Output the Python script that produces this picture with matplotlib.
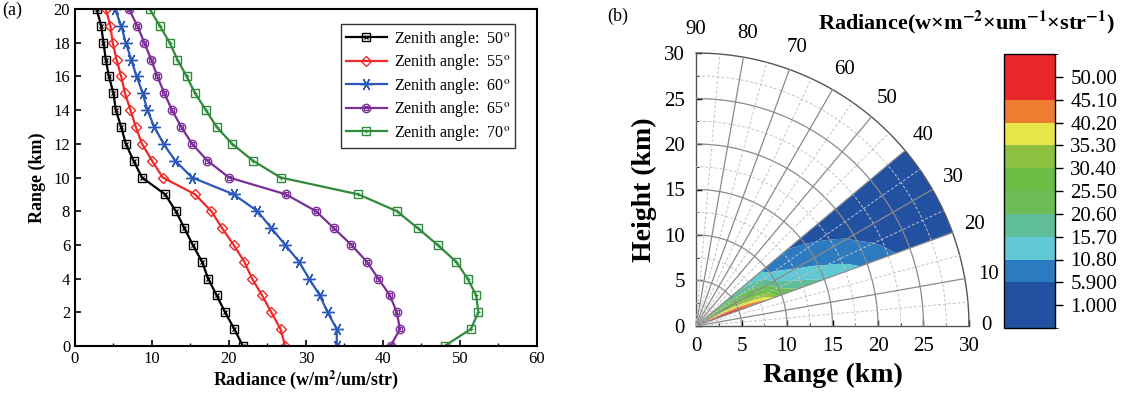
import numpy as np
import matplotlib
matplotlib.use("Agg")
import matplotlib.pyplot as plt
from matplotlib.colors import ListedColormap, BoundaryNorm
from matplotlib.colorbar import ColorbarBase

plt.rcParams['font.family'] = ['Liberation Serif', 'DejaVu Serif']
plt.rcParams['mathtext.fontset'] = 'stix'

# ---- data (a): radiance vs range for each zenith angle ----
ranges = np.arange(0, 21)
zeniths = [50, 55, 60, 65, 70]
rad_50 = [21.8, 20.7, 19.5, 18.4, 17.3, 16.5, 15.3, 14.2, 13.1, 11.7, 8.7,
          7.6, 6.6, 6.0, 5.3, 5.0, 4.4, 4.0, 3.7, 3.4, 2.8]
rad_55 = [27.3, 26.7, 25.5, 24.3, 23.0, 22.0, 20.6, 19.1, 17.7, 15.6, 11.4,
          10.0, 8.7, 7.9, 7.2, 6.5, 6.0, 5.4, 4.9, 4.6, 4.0]
rad_60 = [34.0, 34.0, 32.8, 31.8, 30.4, 29.1, 27.3, 25.5, 23.7, 20.6, 15.2,
          13.0, 11.5, 10.3, 9.4, 8.8, 8.0, 7.3, 6.6, 6.0, 5.2]
rad_65 = [41.0, 42.2, 41.8, 40.9, 39.4, 37.9, 35.9, 33.6, 31.3, 27.4, 20.0,
          17.2, 15.2, 13.8, 12.6, 11.6, 10.7, 9.9, 9.0, 8.1, 7.0]
rad_70 = [48.0, 51.4, 52.4, 52.1, 51.0, 49.5, 47.1, 44.5, 41.8, 36.8, 26.7,
          23.1, 20.4, 18.4, 17.0, 15.6, 14.5, 13.3, 12.3, 11.0, 9.7]

# ---- data (b): same profiles continued out to 30 km ----
ranges_ext = [22, 24, 26, 28, 30]
ext_50 = [2.3, 2.0, 1.8, 1.6, 1.5]
ext_55 = [3.3, 2.9, 2.6, 2.3, 2.1]
ext_60 = [4.5, 3.9, 3.4, 3.0, 2.7]
ext_65 = [5.6, 4.8, 4.2, 3.7, 3.3]
ext_70 = [7.2, 5.3, 4.4, 3.8, 3.3]

levels = [1.0, 5.9, 10.8, 15.7, 20.6, 25.5, 30.4, 35.3, 40.2, 45.1, 50.0]
level_labels = ['1.000', '5.900', '10.80', '15.70', '20.60', '25.50',
                '30.40', '35.30', '40.20', '45.10', '50.00']
band_colors = ['#2251a2', '#2251a2', '#2c7ac0', '#61c9d4', '#5fbe98', '#6cbd58',
               '#6abd45', '#8dc13f', '#e8e54a', '#ef7d31', '#e8282a', '#e8282a']

fig = plt.figure(figsize=(11.21, 4.0), dpi=100)

# ================= panel (a) =================
ax = fig.add_axes([0.0669, 0.135, 0.4121, 0.8425])
styles = [
    ('black', 's', 'x', 5.5),
    ('#f02828', 'D', None, 5),
    ('#2a58b8', (6, 2, 30), None, 9),
    ('#7a2e96', 'o', 's', 6),
    ('#2f8a3c', 's', '+', 6),
]
series = [rad_50, rad_55, rad_60, rad_65, rad_70]
handles = []
for z, vals, (c, m1, m2, ms) in zip(zeniths, series, styles):
    l1, = ax.plot(vals, ranges, color=c, lw=1.6, marker=m1, ms=ms,
                  mfc='none', mec=c, mew=1.0)
    h = l1
    if m2 is not None:
        l2, = ax.plot(vals, ranges, ls='none', marker=m2, ms=ms * 0.6,
                      mec=c, mfc='none', mew=0.9)
        h = (l1, l2)
    handles.append(h)

ax.set_xlim(0, 60)
ax.set_ylim(0, 20)
ax.set_xticks(range(0, 61, 10))
ax.set_xticks(range(5, 60, 10), minor=True)
ax.set_yticks(range(0, 21, 2))
ax.tick_params(direction='in', labelsize=12, length=4, width=1.2)
ax.tick_params(which='minor', direction='in', length=2.5, width=1.0)
for s in ax.spines.values():
    s.set_linewidth(1.5)
ax.set_xlabel('Radiance (w/m$^{\\mathbf{2}}$/um/str)', fontsize=13,
              fontweight='bold', labelpad=1)
ax.set_ylabel('Range (km)', fontsize=13, fontweight='bold', labelpad=5)
labels = ['Zenith angle:  %d$^{\\mathrm{o}}$' % z for z in zeniths]
leg = ax.legend(handles, labels, loc='upper right', bbox_to_anchor=(0.952, 0.955),
                fontsize=11.5, frameon=True, fancybox=False, edgecolor='black',
                handlelength=2.6, handletextpad=0.4, labelspacing=0.22,
                borderpad=0.3, borderaxespad=0)
leg.get_frame().set_linewidth(1.0)
fig.text(0.002, 0.975, '(a)', fontsize=13, va='center')

# ================= panel (b) =================
axp = fig.add_axes([0.6209, 0.185, 0.2435, 0.6825])
r_all = np.concatenate([ranges, ranges_ext]).astype(float)
Zgrid = np.array([list(a) + list(b) for a, b in
                  zip(series, [ext_50, ext_55, ext_60, ext_65, ext_70])])
elev = np.deg2rad(90 - np.array(zeniths, dtype=float))
TH, RR = np.meshgrid(elev, r_all, indexing='ij')
X = RR * np.cos(TH)
Y = RR * np.sin(TH)
bounds = [-3.9] + levels + [54.9]
cmap = ListedColormap(band_colors)
norm = BoundaryNorm(bounds, cmap.N)
axp.contourf(X, Y, Zgrid, levels=bounds, cmap=cmap, norm=norm, antialiased=True)

# polar grid
t = np.linspace(0, np.pi / 2, 300)
for r in np.arange(2.5, 30, 2.5):
    if r % 5 == 0:
        axp.plot(r * np.cos(t), r * np.sin(t), color='#8a8a8a', lw=0.9, zorder=3)
    else:
        axp.plot(r * np.cos(t), r * np.sin(t), color='#c4c4c4', lw=0.7,
                 ls=(0, (3, 2)), zorder=3)
axp.plot(30 * np.cos(t), 30 * np.sin(t), color='#555555', lw=1.0, zorder=3,
         clip_on=False)
for a in range(5, 90, 5):
    ar = np.deg2rad(a)
    if a % 10 == 0:
        axp.plot([0, 30 * np.cos(ar)], [0, 30 * np.sin(ar)], color='#8a8a8a',
                 lw=0.9, zorder=3)
    else:
        axp.plot([0, 30 * np.cos(ar)], [0, 30 * np.sin(ar)], color='#c4c4c4',
                 lw=0.7, ls=(0, (3, 2)), zorder=3)
for a in range(0, 91, 10):
    ar = np.deg2rad(a)
    rl = 31.9 if a == 0 else 32.6
    axp.text(rl * np.cos(ar), rl * np.sin(ar), str(a), fontsize=15,
             ha='center', va='center', clip_on=False)

axp.set_xlim(0, 30)
axp.set_ylim(0, 30)
axp.set_aspect('equal')
axp.spines['top'].set_visible(False)
axp.spines['right'].set_visible(False)
for s in ('left', 'bottom'):
    axp.spines[s].set_color('#555555')
    axp.spines[s].set_linewidth(1.0)
axp.set_xticks(range(0, 31, 5))
axp.set_yticks(range(0, 31, 5))
axp.set_xticks(np.arange(2.5, 30, 5), minor=True)
axp.set_yticks(np.arange(2.5, 30, 5), minor=True)
axp.tick_params(direction='in', labelsize=15, length=4, width=1.0, pad=8)
axp.tick_params(which='minor', direction='in', length=2.5)
axp.set_xlabel('Range (km)', fontsize=20, fontweight='bold', labelpad=5)
axp.set_ylabel('Height (km)', fontsize=20, fontweight='bold', labelpad=5)
fig.text(0.5415, 0.96, '(b)', fontsize=13, va='center')

# colorbar
cax = fig.add_axes([0.8957, 0.18, 0.0455, 0.685])
cb = ColorbarBase(cax, cmap=cmap, norm=norm, boundaries=bounds, ticks=levels,
                  spacing='uniform')
cb.set_ticklabels(level_labels)
cb.outline.set_linewidth(1.0)
cax.tick_params(labelsize=15, length=6, width=1.0, pad=5)
fig.text(0.862, 0.945,
         'Radiance(w×m$^{\\mathbf{-2}}$×um$^{\\mathbf{-1}}$×str$^{\\mathbf{-1}}$)',
         fontsize=16, fontweight='bold', ha='center', va='center')

fig.savefig('out.png', dpi=100)
